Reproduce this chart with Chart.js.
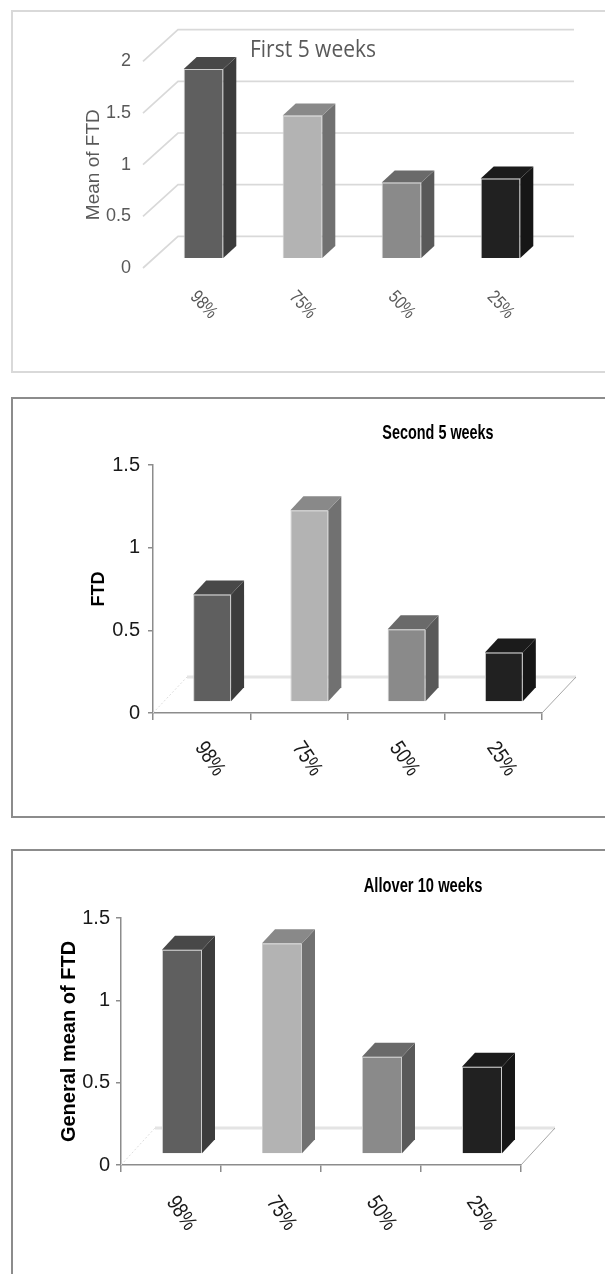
<!DOCTYPE html>
<html>
<head>
<meta charset="utf-8">
<script src="https://cdn.jsdelivr.net/npm/chart.js@4.4.1/dist/chart.umd.min.js"></script>
<style>
  html, body { margin: 0; padding: 0; background: #fff; }
  body { position: relative; width: 605px; height: 1274px; overflow: hidden; }
  .frame { position: absolute; left: 11px; width: 640px; box-sizing: border-box; }
  canvas { position: absolute; left: 0; }
</style>
</head>
<body>
<div class="frame" style="top:10px;height:363px;border:2px solid #d9d9d9;"></div>
<div class="frame" style="top:397px;height:421px;border:2px solid #8c8c8c;"></div>
<div class="frame" style="top:849px;height:460px;border:2px solid #8c8c8c;"></div>
<canvas id="first" width="605" height="380" style="top:0px"></canvas>
<canvas id="second" width="605" height="460" style="top:380px"></canvas>
<canvas id="allover" width="605" height="434" style="top:840px"></canvas>
<script>
// ---- data ----
const categories = ['98%', '75%', '50%', '25%'];
const firstFiveWeeks = [1.83, 1.38, 0.73, 0.77];
const secondFiveWeeks = [0.65, 1.16, 0.44, 0.30];
const alloverTenWeeks = [1.24, 1.28, 0.59, 0.53];
const firstTicks = [0, 0.5, 1, 1.5, 2];
const secondTicks = [0, 0.5, 1, 1.5];
const alloverTicks = [0, 0.5, 1, 1.5];
const firstTitle = 'First 5 weeks';
const secondTitle = 'Second 5 weeks';
const alloverTitle = 'Allover 10 weeks';
const firstAxisTitle = 'Mean of FTD';
const secondAxisTitle = 'FTD';
const alloverAxisTitle = 'General mean of FTD';

// ---- bar shading (front / side / top faces) ----
const frontColors = ['#5f5f5f', '#b3b3b3', '#8a8a8a', '#212121'];
const sideColors = ['#3c3c3c', '#717171', '#595959', '#161616'];
const topColors = ['#484848', '#898989', '#6a6a6a', '#1b1b1b'];

const SANS = "'Liberation Sans', Arial, sans-serif";

// Draws walls/floor behind the bars, extrudes each bar into a box,
// and writes the chart title and slanted category labels.
const boxes3d = {
  id: 'boxes3d',
  beforeDatasetsDraw(chart, args, o) {
    const { ctx, chartArea: a, scales: { y } } = chart;
    const [wx, wy] = o.wallDepth;
    ctx.save();
    if (o.style === 'walls') {
      ctx.strokeStyle = o.gridColor;
      ctx.lineWidth = o.gridWidth;
      y.ticks.forEach(t => {
        const py = y.getPixelForValue(t.value);
        ctx.beginPath();
        ctx.moveTo(a.left, py);
        ctx.lineTo(a.left + wx, py + wy);
        ctx.lineTo(a.right + wx, py + wy);
        ctx.stroke();
      });
    } else {
      const y0 = y.getPixelForValue(0);
      ctx.strokeStyle = '#e4e4e4';
      ctx.lineWidth = 3;
      ctx.beginPath();
      ctx.moveTo(a.left + wx, y0 + wy);
      ctx.lineTo(a.right + wx, y0 + wy);
      ctx.stroke();
      ctx.strokeStyle = '#a6a6a6';
      ctx.lineWidth = 1;
      ctx.beginPath();
      ctx.moveTo(a.right, y0);
      ctx.lineTo(a.right + wx, y0 + wy);
      ctx.stroke();
      ctx.strokeStyle = '#dddddd';
      ctx.setLineDash([2, 2]);
      ctx.beginPath();
      ctx.moveTo(a.left, y0);
      ctx.lineTo(a.left + wx, y0 + wy);
      ctx.stroke();
    }
    ctx.restore();
    // bars sit half-way back in the box
    ctx.save();
    ctx.translate(o.barShift[0], o.barShift[1]);
  },
  afterDatasetsDraw(chart, args, o) {
    const ctx = chart.ctx;
    const [dx, dy] = o.barDepth;
    chart.getDatasetMeta(0).data.forEach((bar, i) => {
      const { x, y, base, width } = bar.getProps(['x', 'y', 'base', 'width'], true);
      const l = x - width / 2, r = x + width / 2;
      ctx.fillStyle = sideColors[i];
      ctx.beginPath();
      ctx.moveTo(r, y); ctx.lineTo(r + dx, y + dy);
      ctx.lineTo(r + dx, base + dy); ctx.lineTo(r, base);
      ctx.closePath(); ctx.fill();
      ctx.fillStyle = topColors[i];
      ctx.beginPath();
      ctx.moveTo(l, y); ctx.lineTo(l + dx, y + dy);
      ctx.lineTo(r + dx, y + dy); ctx.lineTo(r, y);
      ctx.closePath(); ctx.fill();
    });
    ctx.restore();
  },
  afterDraw(chart, args, o) {
    const { ctx, chartArea: a, scales: { x } } = chart;
    ctx.save();
    ctx.fillStyle = o.titleColor;
    ctx.font = o.titleFont;
    ctx.textAlign = 'center';
    ctx.textBaseline = 'alphabetic';
    ctx.save();
    ctx.translate(o.titlePos[0], o.titlePos[1]);
    ctx.scale(o.titleScale[0], o.titleScale[1]);
    ctx.fillText(o.title, 0, 0);
    ctx.restore();
    ctx.fillStyle = o.labelColor;
    ctx.font = o.labelFont;
    ctx.textBaseline = 'middle';
    chart.data.labels.forEach((lab, i) => {
      ctx.save();
      ctx.translate(x.getPixelForTick(i) + o.labelShift[0], a.bottom + o.labelShift[1]);
      ctx.rotate(o.labelAngle * Math.PI / 180);
      ctx.scale(o.labelScale[0], o.labelScale[1]);
      ctx.fillText(lab, 0, 0);
      ctx.restore();
    });
    ctx.restore();
  }
};

function panel(id, p) {
  const canvas = document.getElementById(id);
  return new Chart(canvas, {
    type: 'bar',
    data: {
      labels: categories,
      datasets: [{
        data: p.values,
        backgroundColor: frontColors,
        borderColor: '#cdcdcd',
        borderWidth: 1,
        categoryPercentage: 1,
        barPercentage: p.barPct,
        clip: false
      }]
    },
    plugins: [boxes3d],
    options: {
      responsive: false,
      animation: false,
      devicePixelRatio: 1,
      layout: { padding: p.padding },
      plugins: {
        legend: { display: false },
        tooltip: { enabled: false },
        title: { display: false },
        boxes3d: p.deco
      },
      scales: {
        x: {
          display: p.axisLines,
          offset: true,
          ticks: { display: false },
          grid: { display: p.axisLines, offset: true, drawOnChartArea: false, drawTicks: true, tickLength: 7, color: '#8c8c8c', lineWidth: 1.5 },
          border: { display: p.axisLines, color: '#8c8c8c', width: 1.5 },
          afterFit: s => { s.height = p.axisLines ? 10 : 0; }
        },
        y: {
          min: p.ticks[0],
          max: p.ticks[p.ticks.length - 1],
          afterBuildTicks: s => { s.ticks = p.ticks.map(v => ({ value: v })); },
          afterFit: s => { s.width = p.axisWidth; },
          ticks: {
            padding: p.tickPad,
            color: p.tickColor,
            font: { family: SANS, size: p.tickSize },
            callback: v => String(v)
          },
          grid: { display: p.axisLines, drawOnChartArea: false, drawTicks: p.axisLines, tickLength: 5, color: '#8c8c8c', lineWidth: 1.5 },
          border: { display: p.axisLines, color: '#8c8c8c', width: 1.5 },
          title: {
            display: true,
            text: p.axisTitle,
            color: p.axisTitleColor,
            font: p.axisTitleFont,
            padding: { top: p.axisTitlePad, bottom: 0 }
          }
        }
      }
    }
  });
}

panel('first', {
  values: firstFiveWeeks,
  ticks: firstTicks,
  barPct: 0.4,
  padding: { left: 0, top: 61.4, right: 66, bottom: 112 },
  axisLines: false,
  axisWidth: 143,
  tickPad: 12,
  tickColor: '#595959',
  tickSize: 18,
  axisTitle: firstAxisTitle,
  axisTitleColor: '#595959',
  axisTitleFont: { family: SANS, size: 19, weight: 'normal' },
  axisTitlePad: 82,
  deco: {
    style: 'walls', wallDepth: [35, -31.7], gridColor: '#d9d9d9', gridWidth: 1.7,
    barShift: [11, -10], barDepth: [13, -12],
    title: firstTitle, titleFont: "21px 'Open Sans', sans-serif", titleColor: '#595959', titlePos: [313, 57], titleScale: [1, 1.15],
    labelFont: '17px ' + SANS, labelColor: '#595959', labelShift: [11, 37], labelAngle: 47, labelScale: [0.88, 1.1]
  }
});

panel('second', {
  values: secondFiveWeeks,
  ticks: secondTicks,
  barPct: 0.39,
  padding: { left: 0, top: 85, right: 63, bottom: 117 },
  axisLines: true,
  axisWidth: 153,
  tickPad: 8,
  tickColor: '#1a1a1a',
  tickSize: 20,
  axisTitle: secondAxisTitle,
  axisTitleColor: '#000',
  axisTitleFont: { family: SANS, size: 18, weight: 'bold' },
  axisTitlePad: 88.7,
  deco: {
    style: 'floor', wallDepth: [34, -36],
    barShift: [10.5, -11], barDepth: [13, -14],
    title: secondTitle, titleFont: 'bold 16px ' + SANS, titleColor: '#000', titlePos: [438, 58.5], titleScale: [0.9, 1.3],
    labelFont: '19px ' + SANS, labelColor: '#1a1a1a', labelShift: [8, 46], labelAngle: 56, labelScale: [0.95, 1.15]
  }
});

panel('allover', {
  values: alloverTenWeeks,
  ticks: alloverTicks,
  barPct: 0.4,
  padding: { left: 0, top: 78, right: 84, bottom: 99 },
  axisLines: true,
  axisWidth: 121,
  tickPad: 6,
  tickColor: '#1a1a1a',
  tickSize: 20,
  axisTitle: alloverAxisTitle,
  axisTitleColor: '#000',
  axisTitleFont: { family: SANS, size: 20, weight: 'bold' },
  axisTitlePad: 57,
  deco: {
    style: 'floor', wallDepth: [34, -37],
    barShift: [11, -11], barDepth: [13, -14],
    title: alloverTitle, titleFont: 'bold 16px ' + SANS, titleColor: '#000', titlePos: [423, 52], titleScale: [0.92, 1.3],
    labelFont: '19px ' + SANS, labelColor: '#1a1a1a', labelShift: [10, 48.5], labelAngle: 56, labelScale: [0.95, 1.15]
  }
});
</script>
</body>
</html>
